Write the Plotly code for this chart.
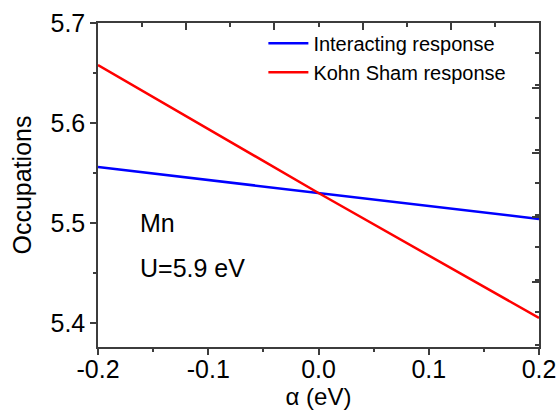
import plotly.graph_objects as go

alpha = [-0.2, 0.0, 0.2]
interacting = [5.556, 5.530, 5.504]
kohn_sham = [5.658, 5.530, 5.405]
series_names = ["Interacting response", "Kohn Sham response"]
x_ticks = [-0.2, -0.1, 0.0, 0.1, 0.2]
x_tick_labels = ["-0.2", "-0.1", "0.0", "0.1", "0.2"]
y_ticks = [5.4, 5.5, 5.6, 5.7]
y_tick_labels = ["5.4", "5.5", "5.6", "5.7"]

FONT = "Liberation Sans, Arial, sans-serif"
AX = "#3c3c3c"
XR = [-0.2, 0.2]
YR = [5.376, 5.7]

fig = go.Figure()
fig.add_trace(go.Scatter(x=alpha, y=interacting, mode="lines", name=series_names[0],
                         line=dict(color="#0000ff", width=2.5)))
fig.add_trace(go.Scatter(x=alpha, y=kohn_sham, mode="lines", name=series_names[1],
                         line=dict(color="#ff0000", width=2.5)))
# transparent copies so the top/right frame axes and bottom tick-label axis get drawn
fig.add_trace(go.Scatter(x=alpha, y=interacting, mode="lines", xaxis="x2", yaxis="y2",
                         line=dict(color="rgba(0,0,0,0)", width=0),
                         showlegend=False, hoverinfo="skip"))
fig.add_trace(go.Scatter(x=alpha, y=interacting, mode="lines", xaxis="x3", yaxis="y",
                         line=dict(color="rgba(0,0,0,0)", width=0),
                         showlegend=False, hoverinfo="skip"))

frame = dict(showline=True, linecolor=AX, linewidth=1.5, showgrid=False, zeroline=False,
             automargin=False)

fig.update_layout(
    width=560, height=410,
    margin=dict(l=98, r=21, t=23, b=63),
    plot_bgcolor="white", paper_bgcolor="white",
    font=dict(family=FONT, color="black"),
    showlegend=True,
    legend=dict(x=0.375, y=0.998, xanchor="left", yanchor="top",
                bgcolor="rgba(0,0,0,0)", font=dict(size=20, family=FONT),
                tracegroupgap=0, itemwidth=40),
    # bottom axis: tick marks + title (labels are on xaxis3)
    xaxis=dict(range=XR, tickvals=x_ticks, showticklabels=False, mirror=True,
               ticks="outside", ticklen=6, tickwidth=1.5, tickcolor=AX,
               minor=dict(tickvals=[-0.15, -0.05, 0.05, 0.15], ticks="outside", ticklen=3,
                          tickwidth=1.5, tickcolor=AX),
               title=dict(text="α (eV)", font=dict(size=24, family=FONT), standoff=36),
               **frame),
    # bottom axis tick labels (zero-length ticks, so labels sit closer to the axis)
    xaxis3=dict(overlaying="x", side="bottom", anchor="y", range=XR,
                tickvals=x_ticks, ticktext=x_tick_labels,
                ticks="outside", ticklen=0, tickcolor="rgba(0,0,0,0)",
                tickfont=dict(size=25, family=FONT),
                showline=False, showgrid=False, zeroline=False, automargin=False),
    yaxis=dict(range=YR, tickvals=y_ticks, ticktext=y_tick_labels, mirror=True,
               ticks="outside", ticklen=6, tickwidth=1.5, tickcolor=AX,
               tickfont=dict(size=25, family=FONT),
               minor=dict(tickvals=[5.45, 5.55, 5.65], ticks="outside", ticklen=3,
                          tickwidth=1.5, tickcolor=AX),
               title=dict(text="Occupations", font=dict(size=25, family=FONT), standoff=12),
               **frame),
    # top frame: 10 equal divisions, inward ticks alternating long/short
    xaxis2=dict(overlaying="x", side="top", anchor="y2", range=XR,
                tick0=XR[0], dtick=(XR[1] - XR[0]) / 5,
                ticks="inside", ticklen=7, tickwidth=1.5, tickcolor=AX, showticklabels=False,
                minor=dict(dtick=(XR[1] - XR[0]) / 10, ticks="inside", ticklen=4,
                           tickwidth=1.5, tickcolor=AX),
                **frame),
    # right frame: 10 equal divisions, inward ticks alternating long/short
    yaxis2=dict(overlaying="y", side="right", anchor="x2", range=YR,
                tick0=YR[0], dtick=(YR[1] - YR[0]) / 5,
                ticks="inside", ticklen=7, tickwidth=1.5, tickcolor=AX, showticklabels=False,
                minor=dict(dtick=(YR[1] - YR[0]) / 10, ticks="inside", ticklen=4,
                           tickwidth=1.5, tickcolor=AX),
                **frame),
)

fig.add_annotation(text="Mn", xref="paper", yref="paper", x=0.09, y=0.383,
                   xanchor="left", yanchor="middle", showarrow=False,
                   font=dict(size=25, family=FONT))
fig.add_annotation(text="U=5.9 eV", xref="paper", yref="paper", x=0.09, y=0.244,
                   xanchor="left", yanchor="middle", showarrow=False,
                   font=dict(size=25, family=FONT))

fig.write_html("out.html")
